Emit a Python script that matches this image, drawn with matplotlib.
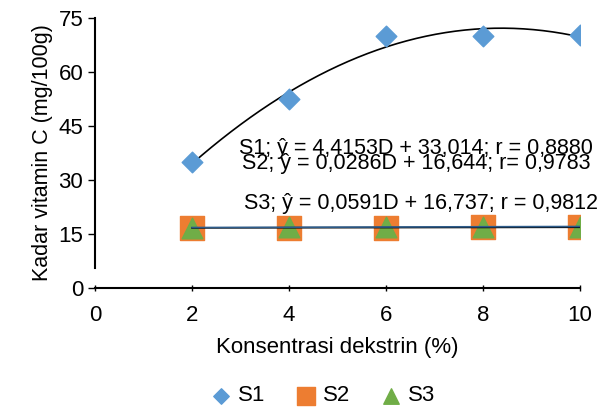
import matplotlib.pyplot as plt
import numpy as np

plt.rcParams['font.family'] = ['Liberation Sans', 'DejaVu Sans']

# data
dekstrin = [2, 4, 6, 8, 10]
s1 = [35.0, 52.5, 70.0, 70.0, 70.3]
s2 = [16.70, 16.76, 16.79, 16.82, 16.88]
s3 = [16.80, 16.86, 16.97, 17.04, 17.07]
xticks = [0, 2, 4, 6, 8, 10]
yticks = [0, 15, 30, 45, 60, 75]
eq_s1 = "S1; ŷ = 4,4153D + 33,014; r = 0,8880"
eq_s2 = "S2; ŷ = 0,0286D + 16,644; r= 0,9783"
eq_s3 = "S3; ŷ = 0,0591D + 16,737; r = 0,9812"

fig = plt.figure(figsize=(6.03, 4.12), dpi=100)
ax = fig.add_axes([0.1575, 0.301, 0.8045, 0.655])

# trend lines
xs = np.linspace(2, 10, 200)
p1 = np.polyfit(dekstrin, s1, 2)
ax.plot(xs, np.polyval(p1, xs), color='black', lw=1.2, zorder=2)
p2 = np.polyfit(dekstrin, s2, 1)
ax.plot(xs, np.polyval(p2, xs), color='black', lw=1.2, zorder=4)
p3 = np.polyfit(dekstrin, s3, 1)
ax.plot(xs, np.polyval(p3, xs), color='#2E5C8A', lw=1.2, zorder=4)

ax.scatter(dekstrin, s1, marker='D', s=110, color='#5B9BD5', zorder=3, label='S1')
ax.scatter(dekstrin, s2, marker='s', s=300, color='#ED7D31', zorder=3, label='S2')
ax.scatter(dekstrin, s3, marker='^', s=220, color='#70AD47', zorder=3, label='S3')

ax.text(6.62, 38.8, eq_s1, ha='center', va='center', fontsize=15.5)
ax.text(6.62, 34.5, eq_s2, ha='center', va='center', fontsize=15.5)
ax.text(6.72, 23.4, eq_s3, ha='center', va='center', fontsize=15.5)

ax.set_xlim(0, 10)
ax.set_ylim(0, 75)
ax.set_xticks(xticks)
ax.set_yticks(yticks)
ax.tick_params(labelsize=16, length=5, width=1)
ax.tick_params(axis='x', direction='inout', pad=10)
ax.spines['top'].set_visible(False)
ax.spines['right'].set_visible(False)
ax.spines['left'].set_linewidth(1.5)
ax.spines['bottom'].set_linewidth(1.5)
ax.spines['left'].set_bounds(5.5, 75)
ax.set_xlabel('Konsentrasi dekstrin (%)', fontsize=16, labelpad=8)
ax.set_ylabel('Kadar vitamin C (mg/100g)', fontsize=15.5, labelpad=4)

ax.legend(loc='center', bbox_to_anchor=(0.47, -0.40), ncol=3, frameon=False,
          fontsize=16, handlelength=0.9, handletextpad=0.3, columnspacing=1.4,
          markerscale=0.75)
ax.patch.set_alpha(0)

plt.savefig('out.png', dpi=100)
